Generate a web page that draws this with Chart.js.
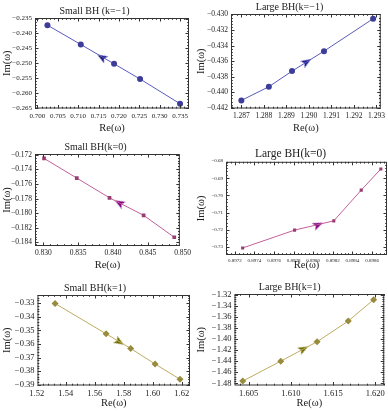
<!DOCTYPE html>
<html>
<head>
<meta charset="utf-8">
<script src="https://cdn.jsdelivr.net/npm/chart.js@4.4.1/dist/chart.umd.min.js"></script>
<style>
  body { margin: 0; background: #fff; width: 388px; height: 412px; position: relative; overflow: hidden; }
  canvas { position: absolute; }
</style>
</head>
<body>
<canvas id="c1"></canvas>
<canvas id="c2"></canvas>
<canvas id="c3"></canvas>
<canvas id="c4"></canvas>
<canvas id="c5"></canvas>
<canvas id="c6"></canvas>
<script>
// Small BH (k=-1)
const smallM1Re = [0.70245, 0.71064, 0.71881, 0.72519, 0.7350];
const smallM1Im = [-0.2372, -0.2437, -0.2502, -0.2553, -0.2636];
const smallM1Arrow = [0.7158, -0.2480];
const smallM1XTicks = [0.700, 0.705, 0.710, 0.715, 0.720, 0.725, 0.730, 0.735];
const smallM1YTicks = [-0.235, -0.240, -0.245, -0.250, -0.255, -0.260, -0.265];

// Large BH (k=-1)
const largeM1Re = [1.2870, 1.28822, 1.28925, 1.29067, 1.29285];
const largeM1Im = [-0.44106, -0.4393, -0.43729, -0.43472, -0.43055];
const largeM1Arrow = [1.2899, -0.4361];
const largeM1XTicks = [1.287, 1.288, 1.289, 1.290, 1.291, 1.292, 1.293];
const largeM1YTicks = [-0.430, -0.432, -0.434, -0.436, -0.438, -0.440, -0.442];

// Small BH (k=0)
const small0Re = [0.8301, 0.8348, 0.8395, 0.8444, 0.8488];
const small0Im = [-0.1725, -0.1752, -0.1779, -0.1803, -0.1833];
const small0Arrow = [0.8409, -0.1786];
const small0XTicks = [0.830, 0.835, 0.840, 0.845, 0.850];
const small0YTicks = [-0.172, -0.174, -0.176, -0.178, -0.180, -0.182, -0.184];

// Large BH (k=0)
const large0Re = [0.89728, 0.89781, 0.89821, 0.89849, 0.89869];
const large0Im = [-0.7306, -0.7202, -0.7148, -0.6969, -0.6846];
const large0Arrow = [0.89805, -0.7171];
const large0XTicks = [0.8972, 0.8974, 0.8976, 0.8978, 0.8980, 0.8982, 0.8984, 0.8986];
const large0YTicks = [-0.68, -0.69, -0.70, -0.71, -0.72, -0.73];

// Small BH (k=1)
const smallP1Re = [1.5326, 1.5678, 1.5848, 1.6016, 1.6188];
const smallP1Im = [-0.3302, -0.3525, -0.3633, -0.3747, -0.3859];
const smallP1Arrow = [1.577, -0.3585];
const smallP1XTicks = [1.52, 1.54, 1.56, 1.58, 1.60, 1.62];
const smallP1YTicks = [-0.33, -0.34, -0.35, -0.36, -0.37, -0.38, -0.39];

// Large BH (k=1)
const largeP1Re = [1.6043, 1.6088, 1.6131, 1.6168, 1.6198];
const largeP1Im = [-1.476, -1.440, -1.405, -1.3675, -1.329];
const largeP1Arrow = [1.6115, -1.418];
const largeP1XTicks = [1.605, 1.610, 1.615, 1.620];
const largeP1YTicks = [-1.32, -1.34, -1.36, -1.38, -1.40, -1.42, -1.44, -1.46, -1.48];

const SERIF = "'Liberation Serif', 'DejaVu Serif', serif";

function fmt(v, d) {
  const s = Math.abs(v).toFixed(d);
  return v < 0 ? '\u2212' + s : s;
}

// small dart-shaped arrowhead, pointing up; chart.js rotates it per dataset
function arrowHead(color) {
  const c = document.createElement('canvas');
  c.width = 8; c.height = 10;
  const g = c.getContext('2d');
  g.fillStyle = color;
  g.beginPath();
  g.moveTo(4, 0); g.lineTo(8, 10); g.lineTo(4, 7.5); g.lineTo(0, 10);
  g.closePath();
  g.fill();
  return c;
}

// frame with inward ticks on all four sides, like a Mathematica Frame
const framePlugin = {
  id: 'frame',
  afterDraw(chart) {
    const { ctx, chartArea: a, scales } = chart;
    ctx.save();
    ctx.strokeStyle = '#333';
    ctx.lineWidth = 1;
    ctx.strokeRect(a.left + 0.5, a.top + 0.5, a.right - a.left - 1, a.bottom - a.top - 1);
    const sides = (scale, vals, len, horiz) => {
      vals.forEach(v => {
        if (v < scale.min || v > scale.max) return;
        const p = Math.round(scale.getPixelForValue(v)) + 0.5;
        ctx.beginPath();
        if (horiz) {
          ctx.moveTo(p, a.bottom); ctx.lineTo(p, a.bottom - len);
          ctx.moveTo(p, a.top); ctx.lineTo(p, a.top + len);
        } else {
          ctx.moveTo(a.left, p); ctx.lineTo(a.left + len, p);
          ctx.moveTo(a.right, p); ctx.lineTo(a.right - len, p);
        }
        ctx.stroke();
      });
    };
    ['x', 'y'].forEach(k => {
      const s = scales[k];
      const major = s.ticks.map(t => t.value);
      const step = major[1] - major[0];
      const minor = [];
      for (let i = -1; i < major.length; i++) {
        for (let j = 1; j < 5; j++) minor.push(major[0] + (i + j / 5) * step);
      }
      sides(s, major, 3.5, k === 'x');
      sides(s, minor, 1.8, k === 'x');
    });
    ctx.restore();
  }
};

function panel(id, box, area, d) {
  const cv = document.getElementById(id);
  cv.width = box.w; cv.height = box.h;
  cv.style.left = box.x + 'px'; cv.style.top = box.y + 'px';
  cv.style.width = box.w + 'px'; cv.style.height = box.h + 'px';
  const L = area.l - box.x, T = area.t - box.y;
  const R = box.x + box.w - area.r, B = box.y + box.h - area.b;
  const tLine = Math.round(d.tsize * 1.2);
  const tickFont = { family: SERIF, size: d.fsize };
  const axisFont = { family: SERIF, size: 10.5 };

  new Chart(cv, {
    type: 'scatter',
    data: {
      datasets: [{
        data: d.re.map((x, i) => ({ x: x, y: d.im[i] })),
        showLine: true,
        borderColor: d.line,
        borderWidth: 1,
        pointStyle: d.marker,
        pointRadius: d.r,
        backgroundColor: d.mark,
        pointBorderColor: d.mark,
        pointBorderWidth: 0
      }, {
        data: [{ x: d.arrow[0], y: d.arrow[1] }],
        pointStyle: arrowHead(d.arrowColor),
        pointRotation: d.rot,
        pointRadius: 5,
        pointBorderWidth: 0
      }]
    },
    options: {
      responsive: false,
      animation: false,
      events: [],
      layout: { autoPadding: false, padding: { left: 0, right: R, top: 0, bottom: 0 } },
      plugins: {
        legend: { display: false },
        tooltip: { enabled: false },
        title: {
          display: true,
          text: d.title,
          color: '#222',
          font: { family: SERIF, size: d.tsize, weight: 'normal', lineHeight: 1.2 },
          padding: { top: Math.max(0, T - tLine - 1), bottom: 1 }
        }
      },
      scales: {
        x: {
          type: 'linear',
          min: d.xr[0], max: d.xr[1],
          afterBuildTicks: s => { s.ticks = d.xt.map(v => ({ value: v })); },
          afterFit: s => { s.height = B; },
          grid: { display: false, drawTicks: false },
          border: { display: false },
          ticks: { color: '#222', font: tickFont, padding: 3, maxRotation: 0, autoSkip: false,
                   callback: v => fmt(v, d.xd) },
          title: { display: true, text: 'Re(\u03c9)', color: '#222', font: axisFont, padding: { top: 0, bottom: 2 } }
        },
        y: {
          type: 'linear',
          min: d.yr[0], max: d.yr[1],
          afterBuildTicks: s => { s.ticks = d.yt.map(v => ({ value: v })); },
          afterFit: s => { s.width = L; },
          grid: { display: false, drawTicks: false },
          border: { display: false },
          ticks: { color: '#222', font: tickFont, padding: 3, autoSkip: false,
                   callback: v => fmt(v, d.yd) },
          title: { display: true, text: 'Im(\u03c9)', color: '#222', font: axisFont, padding: { top: 1, bottom: 0 } }
        }
      }
    },
    plugins: [framePlugin]
  });
}

const BLUE = 'rgb(61,61,153)', BLUE_LINE = 'rgb(90,90,190)';
const PURPLE = 'rgb(153,61,113)', PURPLE_LINE = 'rgb(195,95,155)';
const OLIVE = 'rgb(153,139,61)', OLIVE_LINE = 'rgb(190,172,95)';

panel('c1', { x: 0, y: 0, w: 194, h: 137 }, { l: 35, t: 18, r: 189, b: 108.5 }, {
  title: 'Small BH (k=\u22121)', tsize: 10, fsize: 7,
  re: smallM1Re, im: smallM1Im, arrow: smallM1Arrow, rot: -59, arrowColor: 'rgb(30,30,130)',
  xt: smallM1XTicks, yt: smallM1YTicks, xd: 3, yd: 3,
  xr: [0.6994, 0.7372], yr: [-0.2652, -0.2348],
  marker: 'circle', r: 3, mark: BLUE, line: BLUE_LINE
});

panel('c2', { x: 194, y: 0, w: 194, h: 137 }, { l: 231, t: 14, r: 385, b: 108.5 }, {
  title: 'Large BH(k=\u22121)', tsize: 10, fsize: 7.5,
  re: largeM1Re, im: largeM1Im, arrow: largeM1Arrow, rot: 58, arrowColor: 'rgb(30,30,150)',
  xt: largeM1XTicks, yt: largeM1YTicks, xd: 3, yd: 3,
  xr: [1.28654, 1.29319], yr: [-0.4421, -0.42994],
  marker: 'circle', r: 3, mark: BLUE, line: BLUE_LINE
});

panel('c3', { x: 0, y: 137, w: 194, h: 137 }, { l: 35, t: 154, r: 191, b: 246 }, {
  title: 'Small BH(k=0)', tsize: 10, fsize: 7.5,
  re: small0Re, im: small0Im, arrow: small0Arrow, rot: -60, arrowColor: 'rgb(128,0,128)',
  xt: small0XTicks, yt: small0YTicks, xd: 3, yd: 3,
  xr: [0.8288, 0.8496], yr: [-0.1845, -0.1719],
  marker: 'rect', r: 2.6, mark: PURPLE, line: PURPLE_LINE
});

panel('c4', { x: 194, y: 137, w: 194, h: 137 }, { l: 226, t: 162, r: 387, b: 255 }, {
  title: 'Large BH(k=0)', tsize: 11.5, fsize: 5,
  re: large0Re, im: large0Im, arrow: large0Arrow, rot: 66, arrowColor: 'rgb(128,0,128)',
  xt: large0XTicks, yt: large0YTicks, xd: 4, yd: 2,
  xr: [0.89711, 0.898753], yr: [-0.7347, -0.6804],
  marker: 'rect', r: 2.2, mark: PURPLE, line: PURPLE_LINE
});

panel('c5', { x: 0, y: 274, w: 194, h: 138 }, { l: 37.5, t: 295, r: 190, b: 385.5 }, {
  title: 'Small BH(k=1)', tsize: 10, fsize: 8.5,
  re: smallP1Re, im: smallP1Im, arrow: smallP1Arrow, rot: 122, arrowColor: 'rgb(110,110,0)',
  xt: smallP1XTicks, yt: smallP1YTicks, xd: 2, yd: 2,
  xr: [1.5205, 1.6257], yr: [-0.3905, -0.324],
  marker: 'rectRot', r: 3.5, mark: OLIVE, line: OLIVE_LINE
});

panel('c6', { x: 194, y: 274, w: 194, h: 138 }, { l: 234.5, t: 294, r: 385.5, b: 385.5 }, {
  title: 'Large BH(k=1)', tsize: 10, fsize: 8.5,
  re: largeP1Re, im: largeP1Im, arrow: largeP1Arrow, rot: 62, arrowColor: 'rgb(110,110,0)',
  xt: largeP1XTicks, yt: largeP1YTicks, xd: 3, yd: 2,
  xr: [1.60332, 1.62106], yr: [-1.484, -1.3187],
  marker: 'rectRot', r: 3.5, mark: OLIVE, line: OLIVE_LINE
});
</script>
</body>
</html>
